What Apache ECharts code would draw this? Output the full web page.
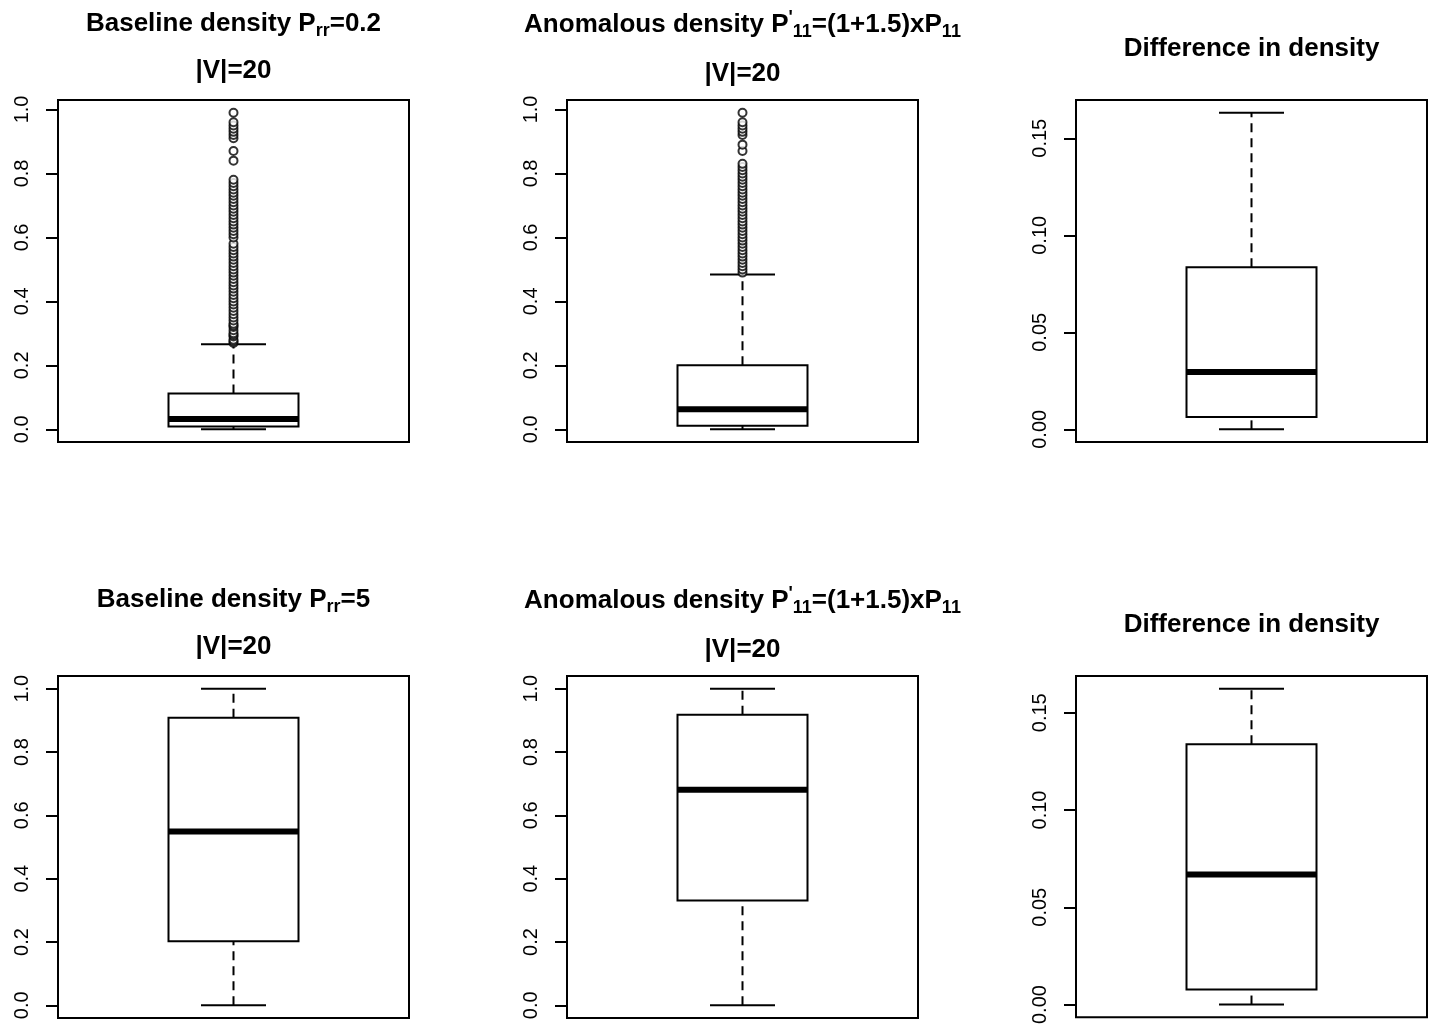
<!DOCTYPE html>
<html>
<head>
<meta charset="utf-8">
<title>Density boxplots</title>
<script src="https://cdn.jsdelivr.net/npm/echarts@6.0.0/dist/echarts.min.js"></script>
<style>
  html, body { margin: 0; padding: 0; background: #fff; }
  #chart { width: 1432px; height: 1027px; }
</style>
</head>
<body>
<div id="chart"></div>
<script>
// five-number summaries: [lower whisker, Q1, median, Q3, upper whisker]
const baselineLowBox = [0, 0.009, 0.032, 0.112, 0.266]
const anomalousLowBox = [0, 0.011, 0.063, 0.2, 0.484]
const diffLowBox = [0, 0.0063, 0.0295, 0.0835, 0.1632]
const baselineHighBox = [0, 0.202, 0.549, 0.908, 1]
const anomalousHighBox = [0, 0.331, 0.681, 0.918, 1]
const diffHighBox = [0, 0.0077, 0.0668, 0.1338, 0.1624]

// points beyond the upper whisker (only the top row has them)
const baselineLowOutliers = [
  0.27, 0.275, 0.28, 0.29, 0.295, 0.3, 0.31, 0.32, 0.325, 0.33, 0.34, 0.35, 0.36, 0.37,
  0.38, 0.39, 0.4, 0.41, 0.42, 0.43, 0.44, 0.45, 0.46, 0.47, 0.48, 0.49, 0.5, 0.51,
  0.52, 0.53, 0.54, 0.55, 0.56, 0.57, 0.58, 0.6, 0.61, 0.62, 0.63, 0.64, 0.65, 0.66,
  0.67, 0.68, 0.69, 0.7, 0.71, 0.72, 0.73, 0.74, 0.75, 0.76, 0.77, 0.78,
  0.84, 0.87, 0.91, 0.92, 0.93, 0.94, 0.95, 0.96, 0.99
]
const anomalousLowOutliers = [
  0.49, 0.5, 0.51, 0.52, 0.53, 0.54, 0.55, 0.56, 0.57, 0.58, 0.59, 0.6, 0.61, 0.62,
  0.63, 0.64, 0.65, 0.66, 0.67, 0.68, 0.69, 0.7, 0.71, 0.72, 0.73, 0.74, 0.75, 0.76,
  0.77, 0.78, 0.79, 0.8, 0.81, 0.82, 0.83,
  0.87, 0.89, 0.92, 0.93, 0.94, 0.95, 0.96, 0.99
]

const densityTicks = [0, 0.2, 0.4, 0.6, 0.8, 1.0]
const diffTicks = [0, 0.05, 0.1, 0.15]

const FONT = 'Liberation Sans'
const BOX_HALF = 0.2
const STAPLE_HALF = 0.1

const colLeft = [58, 567, 1076]
const rowTop = [100, 676]
const PLOT_W = 351
const PLOT_H = 342

const panels = [
  { row: 0, col: 0, box: baselineLowBox, outliers: baselineLowOutliers, ticks: densityTicks, digits: 1,
    titles: [['Baseline density P{sub|rr}=0.2', 24], ['|V|=20', 71]] },
  { row: 0, col: 1, box: anomalousLowBox, outliers: anomalousLowOutliers, ticks: densityTicks, digits: 1,
    titles: [['Anomalous density P{sup|\'}{sub|11}=(1+1.5)xP{sub|11}', 25], ['|V|=20', 74]] },
  { row: 0, col: 2, box: diffLowBox, outliers: [], ticks: diffTicks, digits: 2,
    titles: [['Difference in density', 49]] },
  { row: 1, col: 0, box: baselineHighBox, outliers: [], ticks: densityTicks, digits: 1,
    titles: [['Baseline density P{sub|rr}=5', 600], ['|V|=20', 647]] },
  { row: 1, col: 1, box: anomalousHighBox, outliers: [], ticks: densityTicks, digits: 1,
    titles: [['Anomalous density P{sup|\'}{sub|11}=(1+1.5)xP{sub|11}', 601], ['|V|=20', 650]] },
  { row: 1, col: 2, box: diffHighBox, outliers: [], ticks: diffTicks, digits: 2,
    titles: [['Difference in density', 625]] }
]

// R pads the data range by 4% on each side
const yRange = (p) => {
  const all = p.box.concat(p.outliers)
  const lo = Math.min(...all)
  const hi = Math.max(...all)
  const pad = (hi - lo) * 0.04
  return [lo - pad, hi + pad]
}

const renderBox = (params, api) => {
  const x = api.value(0)
  const [lo, q1, med, q3, hi] = [1, 2, 3, 4, 5].map((i) => api.value(i))
  const at = (dx, v) => api.coord([x + dx, v])
  const line = (a, b, style) => ({
    type: 'line',
    shape: { x1: a[0], y1: a[1], x2: b[0], y2: b[1] },
    style
  })
  const thin = { stroke: '#000', lineWidth: 2 }
  const dashed = { stroke: '#000', lineWidth: 2, lineDash: [9, 6] }
  const thick = { stroke: '#000', lineWidth: 6 }
  const tl = at(-BOX_HALF, q3)
  const br = at(BOX_HALF, q1)
  return {
    type: 'group',
    children: [
      line(at(0, q3), at(0, hi), dashed),
      line(at(0, lo), at(0, q1), dashed),
      line(at(-STAPLE_HALF, hi), at(STAPLE_HALF, hi), thin),
      line(at(-STAPLE_HALF, lo), at(STAPLE_HALF, lo), thin),
      {
        type: 'rect',
        shape: { x: tl[0], y: tl[1], width: br[0] - tl[0], height: br[1] - tl[1] },
        style: { fill: '#fff', stroke: '#000', lineWidth: 2 }
      },
      line(at(-BOX_HALF, med), at(BOX_HALF, med), thick)
    ]
  }
}

const grid = panels.map((p) => ({
  left: colLeft[p.col],
  top: rowTop[p.row],
  width: PLOT_W,
  height: PLOT_H,
  show: true,
  borderColor: '#000',
  borderWidth: 2,
  backgroundColor: 'transparent'
}))

const xAxis = panels.map((p, i) => ({
  type: 'value',
  gridIndex: i,
  min: 0.46,
  max: 1.54,
  show: false
}))

const yAxis = panels.map((p, i) => {
  const [min, max] = yRange(p)
  return {
    type: 'value',
    gridIndex: i,
    min,
    max,
    splitLine: { show: false },
    axisLine: { show: false },
    axisTick: {
      show: true,
      inside: false,
      length: 12,
      customValues: p.ticks,
      lineStyle: { color: '#000', width: 2 }
    },
    axisLabel: {
      customValues: p.ticks,
      rotate: 90,
      margin: 26,
      color: '#000',
      fontSize: 20,
      fontFamily: FONT,
      formatter: (v) => v.toFixed(p.digits)
    }
  }
})

const series = []
panels.forEach((p, i) => {
  series.push({
    type: 'custom',
    xAxisIndex: i,
    yAxisIndex: i,
    renderItem: renderBox,
    encode: { x: 0, y: [1, 2, 3, 4, 5] },
    data: [[1].concat(p.box)],
    silent: true
  })
  if (p.outliers.length) {
    series.push({
      type: 'scatter',
      xAxisIndex: i,
      yAxisIndex: i,
      symbol: 'emptyCircle',
      symbolSize: 8,
      itemStyle: { color: '#000', borderColor: '#000', borderWidth: 2 },
      data: p.outliers.map((v) => [1, v]),
      silent: true
    })
  }
})

const richStyles = {
  sub: { fontSize: 18, fontWeight: 'bold', fontFamily: FONT, fill: '#000', verticalAlign: 'bottom', lineHeight: 16 },
  sup: { fontSize: 18, fontWeight: 'bold', fontFamily: FONT, fill: '#000', verticalAlign: 'top', lineHeight: 16 }
}

const graphic = []
panels.forEach((p) => {
  p.titles.forEach(([text, y]) => {
    graphic.push({
      type: 'text',
      x: colLeft[p.col] + PLOT_W / 2,
      y,
      silent: true,
      style: {
        text,
        fill: '#000',
        fontSize: 26,
        fontWeight: 'bold',
        fontFamily: FONT,
        lineHeight: 32,
        textAlign: 'center',
        textVerticalAlign: 'middle',
        rich: richStyles
      }
    })
  })
})

const chart = echarts.init(document.getElementById('chart'), null, { renderer: 'canvas' })
chart.setOption({
  animation: false,
  backgroundColor: '#fff',
  grid,
  xAxis,
  yAxis,
  series,
  graphic
})
window.addEventListener('resize', () => chart.resize())
</script>
</body>
</html>
